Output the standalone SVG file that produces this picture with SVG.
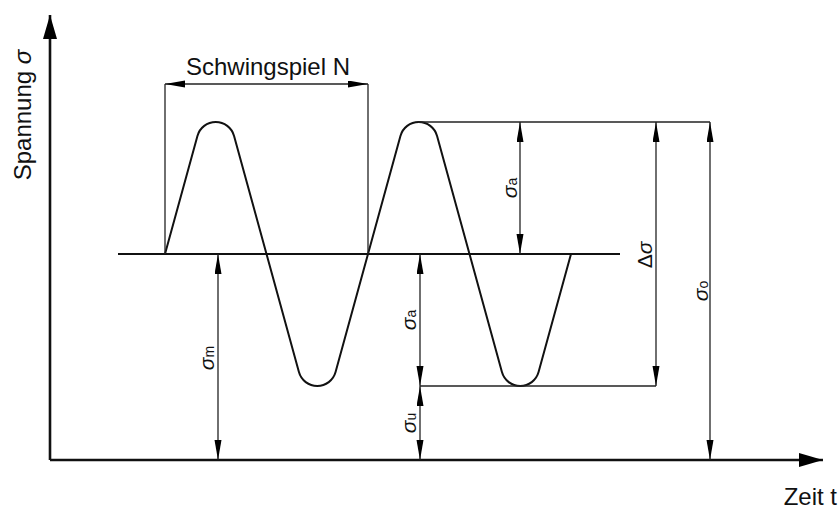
<svg xmlns="http://www.w3.org/2000/svg" width="840" height="510" viewBox="0 0 840 510">
<style>
  .ax{stroke:#111;stroke-width:2.6;fill:none}
  .wave{stroke:#111;stroke-width:2;fill:none;stroke-linejoin:round}
  .mean{stroke:#111;stroke-width:2;fill:none}
  .ext{stroke:#222;stroke-width:1.3;fill:none}
  .dim{stroke:#222;stroke-width:1.3;fill:none;marker-start:url(#ar);marker-end:url(#ar)}
  .t{font-family:"Liberation Sans",Arial,sans-serif;fill:#111}
  .big{font-size:24px}
  .lab{font-size:21px}
  .sig{font-style:italic}
  .sub{font-size:14px;font-style:normal}
</style>
<defs>
  <marker id="ar" markerUnits="userSpaceOnUse" markerWidth="20" markerHeight="8" refX="20" refY="3.5" orient="auto-start-reverse">
    <path d="M0,0 L20,3.5 L0,7 Z" fill="#000"/>
  </marker>
  <marker id="axar" markerUnits="userSpaceOnUse" markerWidth="24" markerHeight="14" refX="24" refY="7" orient="auto">
    <path d="M0,0 L24,7 L0,14 Z" fill="#000"/>
  </marker>
</defs>

<g id="axes">
  <line class="ax" x1="50" y1="460" x2="50" y2="15" marker-end="url(#axar)"/>
  <line class="ax" x1="50" y1="460" x2="823" y2="460" marker-end="url(#axar)"/>
  <text class="t big" transform="translate(31,115) rotate(-90)" text-anchor="middle">Spannung <tspan class="sig">σ</tspan></text>
  <text class="t big" x="837" y="505" text-anchor="end">Zeit t</text>
</g>

<g id="mean-line">
  <line class="mean" x1="118" y1="254" x2="620" y2="254"/>
</g>

<g id="wave">
  <path class="wave" d="M165,254 L197.43,135.96 A19,19 0 0 1 234.07,135.96 L266.5,254 L298.93,372.04 A19,19 0 0 0 335.57,372.04 L368,254 L400.43,135.96 A19,19 0 0 1 437.07,135.96 L469.5,254 L501.93,372.04 A19,19 0 0 0 538.57,372.04 L571,254"/>
</g>

<g id="connectors">
  <line class="ext" x1="165" y1="84" x2="165" y2="254"/>
  <line class="ext" x1="368" y1="84" x2="368" y2="254"/>
  <line class="ext" x1="418" y1="122" x2="710" y2="122"/>
  <line class="ext" x1="420" y1="386" x2="656" y2="386"/>
  <line class="dim" x1="165" y1="84" x2="368" y2="84"/>
  <line class="dim" x1="520" y1="122" x2="520" y2="254"/>
  <line class="dim" x1="656" y1="122" x2="656" y2="386"/>
  <line class="dim" x1="710" y1="122" x2="710" y2="460"/>
  <line class="dim" x1="218" y1="254" x2="218" y2="460"/>
  <line class="dim" x1="420" y1="254" x2="420" y2="386"/>
  <line class="dim" x1="420" y1="386" x2="420" y2="460"/>
</g>

<g id="labels">
  <text id="lbl-N" class="t big" x="268" y="75" text-anchor="middle">Schwingspiel N</text>
  <text id="lbl-sa-top" class="t lab" transform="translate(517,188) rotate(-90)" text-anchor="middle"><tspan class="sig">σ</tspan><tspan class="sub">a</tspan></text>
  <text id="lbl-dsig" class="t lab" transform="translate(652,255) rotate(-90)" text-anchor="middle">Δ<tspan class="sig">σ</tspan></text>
  <text id="lbl-so" class="t lab" transform="translate(708,291) rotate(-90)" text-anchor="middle"><tspan class="sig">σ</tspan><tspan class="sub">o</tspan></text>
  <text id="lbl-sm" class="t lab" transform="translate(214,358) rotate(-90)" text-anchor="middle"><tspan class="sig">σ</tspan><tspan class="sub">m</tspan></text>
  <text id="lbl-sa-low" class="t lab" transform="translate(416,320) rotate(-90)" text-anchor="middle"><tspan class="sig">σ</tspan><tspan class="sub">a</tspan></text>
  <text id="lbl-su" class="t lab" transform="translate(416,423) rotate(-90)" text-anchor="middle"><tspan class="sig">σ</tspan><tspan class="sub">u</tspan></text>
</g>
</svg>
